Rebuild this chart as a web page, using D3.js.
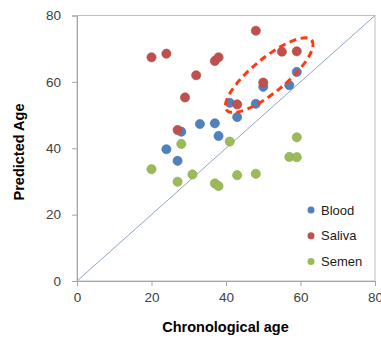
<!DOCTYPE html>
<meta charset="utf-8">
<style>
body { margin: 0; background: #fff; }
text { font-family: "Liberation Sans", Arial, sans-serif; }
.tick text { fill: #404040; font-size: 13.5px; }
.axis-title { font-size: 14.5px; font-weight: bold; fill: #000; }
.legend text { font-size: 13px; fill: #1a1a1a; }
</style>
<body>
<script src="https://cdnjs.cloudflare.com/ajax/libs/d3/7.8.5/d3.min.js"></script>
<script>
// chronological age vs predicted age, per sample type
var series = ["Blood", "Saliva", "Semen"];
var colors = ["#4F81BD", "#C0504D", "#9BBB59"];

var bloodAge  = [24, 27, 28, 33, 37, 38, 41, 43, 48, 50, 57, 59];
var bloodPred = [39.7, 36.2, 45.0, 47.3, 47.5, 43.7, 53.7, 49.4, 53.4, 58.5, 59.0, 63.0];

var salivaAge  = [20, 24, 27, 29, 32, 37, 38, 43, 48, 50, 55, 59];
var salivaPred = [67.4, 68.5, 45.5, 55.3, 62.0, 66.3, 67.4, 53.2, 75.4, 59.8, 69.1, 69.2];

var semenAge  = [20, 27, 28, 31, 37, 38, 41, 43, 48, 57, 59, 59];
var semenPred = [33.7, 29.9, 41.3, 32.1, 29.4, 28.6, 42.0, 31.9, 32.3, 37.4, 37.3, 43.3];

var ticks = [0, 20, 40, 60, 80];

// highlighted region (dashed ellipse), centre in data units
var highlight = { age: 51.6, pred: 62.0 };

var width = 381, height = 338;
var plotL = 77, plotR = 375, plotT = 15.5, plotB = 281;

var x = d3.scaleLinear().domain([0, 80]).range([plotL, plotR]);
var y = d3.scaleLinear().domain([0, 80]).range([plotB, plotT]);

var svg = d3.select("body").append("svg")
    .attr("width", width)
    .attr("height", height);

// plot frame
svg.append("rect")
    .attr("x", plotL).attr("y", plotT)
    .attr("width", plotR - plotL).attr("height", plotB - plotT)
    .attr("fill", "none")
    .attr("stroke", "#BFBFBF");

// axes
var xAxis = svg.append("g")
    .attr("transform", "translate(0," + plotB + ")")
    .call(d3.axisBottom(x).tickValues(ticks).tickSize(5).tickPadding(6));
var yAxis = svg.append("g")
    .attr("transform", "translate(" + plotL + ",0)")
    .call(d3.axisLeft(y).tickValues(ticks).tickSize(5).tickPadding(11));
[xAxis, yAxis].forEach(function(g) {
  g.select(".domain").attr("stroke", "#A6A6A6");
  g.selectAll(".tick line").attr("stroke", "#A6A6A6");
  g.attr("font-family", null).attr("font-size", null);
});

// identity line
svg.append("line")
    .attr("x1", x(0)).attr("y1", y(0))
    .attr("x2", x(80)).attr("y2", y(80))
    .attr("stroke", "#8FA6C4")
    .attr("stroke-width", 1);

// points
var data = [
  { name: series[0], age: bloodAge, pred: bloodPred },
  { name: series[1], age: salivaAge, pred: salivaPred },
  { name: series[2], age: semenAge, pred: semenPred }
];

data.forEach(function(s, i) {
  svg.append("g").selectAll("circle")
      .data(s.age.map(function(a, j) { return [a, s.pred[j]]; }))
    .enter().append("circle")
      .attr("cx", function(d) { return x(d[0]); })
      .attr("cy", function(d) { return y(d[1]); })
      .attr("r", 4.6)
      .attr("fill", colors[i])
      .attr("stroke", d3.color(colors[i]).darker(0.3))
      .attr("stroke-width", 0.6);
});

// dashed ellipse
svg.append("ellipse")
    .attr("transform", "translate(" + x(highlight.age) + "," + y(highlight.pred) + ") rotate(-39.5)")
    .attr("rx", 55)
    .attr("ry", 17)
    .attr("fill", "none")
    .attr("stroke", "#FF3A12")
    .attr("stroke-width", 3)
    .attr("stroke-dasharray", "7,4.5");

// legend
var legend = svg.append("g").attr("class", "legend");
series.forEach(function(name, i) {
  var row = legend.append("g")
      .attr("transform", "translate(311," + (210 + i * 25.8) + ")");
  row.append("circle").attr("r", 3.5).attr("fill", colors[i]);
  row.append("text")
      .attr("x", 10).attr("y", 0)
      .attr("dy", "0.35em")
      .text(name);
});

// axis titles
svg.append("text")
    .attr("class", "axis-title")
    .attr("x", (plotL + plotR) / 2 - 0.5)
    .attr("y", 332)
    .attr("text-anchor", "middle")
    .text("Chronological age");

svg.append("text")
    .attr("class", "axis-title")
    .attr("transform", "translate(24,152) rotate(-90)")
    .attr("text-anchor", "middle")
    .text("Predicted Age");
</script>
</body>
